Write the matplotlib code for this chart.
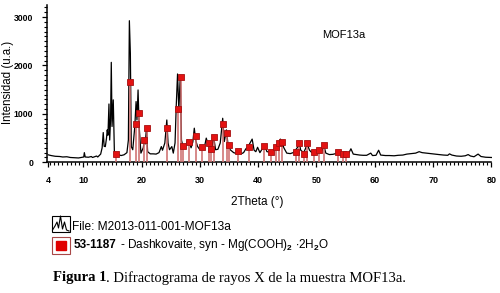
import matplotlib
matplotlib.use('Agg')
import matplotlib.pyplot as plt
from matplotlib.patches import Rectangle
from matplotlib.ticker import MultipleLocator

two_theta = [4.0, 4.5, 5.2, 6.0, 6.5, 7.2, 7.8, 8.5, 9.2, 9.7, 10.1, 10.2, 10.35, 10.9,
             11.4, 11.6, 12.3, 12.5, 13.0, 13.25, 13.44, 13.6, 13.8, 14.0, 14.13, 14.25,
             14.42, 14.55, 14.7, 14.82, 14.95, 15.16, 15.35, 15.7, 16.0, 16.5, 17.0, 17.5,
             17.75, 17.92, 18.09, 18.25, 18.5, 18.85, 19.07, 19.22, 19.41, 19.6, 19.9, 20.3,
             20.5, 20.65, 20.85, 21.05, 21.5, 22.0, 22.5, 23.0, 23.4, 23.6, 24.0, 24.34,
             24.55, 24.8, 25.2, 25.45, 25.75, 25.95, 26.18, 26.4, 26.65, 26.85, 27.1, 27.3,
             27.6, 27.9, 28.2, 28.5, 28.8, 29.05, 29.3, 29.6, 30.0, 30.4, 30.7, 31.1, 31.4,
             31.7, 32.0, 32.4, 32.7, 33.1, 33.5, 33.92, 34.2, 34.55, 34.8, 35.2, 35.8, 36.3,
             36.6, 37.0, 37.5, 37.9, 38.3, 38.97, 39.3, 39.6, 39.9, 40.3, 40.8, 41.1, 41.5,
             42.1, 42.6, 43.0, 43.5, 43.8, 44.1, 44.4, 44.9, 45.5, 46.0, 46.4, 46.8, 47.0,
             47.3, 47.8, 48.1, 48.4, 48.8, 49.2, 49.6, 50.0, 50.4, 50.8, 51.3, 51.6, 52.2,
             52.8, 53.3, 53.7, 54.0, 54.5, 55.0, 55.5, 55.9, 56.3, 56.8, 57.4, 58.0, 58.6,
             59.3, 59.6, 60.2, 60.65, 61.0, 61.8, 62.5, 63.3, 64.0, 64.8, 65.5, 66.3, 67.0,
             67.6, 68.1, 68.8, 69.5, 70.2, 71.0, 71.8, 72.5, 72.8, 73.2, 74.0, 74.8, 75.5,
             76.0, 76.4, 77.0, 77.7, 78.2, 79.0, 80.0]
intensity = [155, 140, 125, 120, 110, 115, 100, 95, 90, 100, 110, 200, 110, 105,
             120, 100, 130, 110, 170, 300, 615, 330, 325, 500, 670, 560,
             1205, 460, 900, 2065, 740, 1290, 220, 170, 160, 140, 155, 200,
             460, 2925, 2250, 325, 260, 740, 1255, 875, 1495, 740, 190, 300,
             460, 380, 720, 220, 175, 175, 170, 200, 325, 250, 400, 875,
             400, 260, 325, 190, 400, 1150, 1825, 1080, 1780, 460, 330, 290,
             350, 460, 420, 300, 420, 705, 450, 330, 260, 310, 260, 500, 380,
             320, 280, 500, 260, 270, 400, 910, 430, 670, 400, 260, 200, 180,
             230, 170, 200, 280, 330, 480, 250, 220, 310, 200, 300, 350, 220,
             210, 250, 320, 380, 480, 420, 300, 190, 180, 200, 250, 320, 420,
             250, 200, 280, 380, 250, 200, 230, 200, 260, 220, 330, 190, 160,
             165, 180, 220, 170, 190, 170, 180, 280, 170, 160, 150, 145, 145,
             190, 140, 145, 250, 150, 140, 140, 135, 145, 150, 170, 180, 190,
             220, 200, 190, 180, 170, 160, 150, 145, 175, 150, 130, 125, 135,
             160, 130, 115, 170, 120, 105, 100]

# reference card 53-1187 (Dashkovaite) peak positions and heights
ref_theta = [15.65, 18.1, 19.12, 19.57, 20.48, 20.9, 24.34, 26.2, 26.72, 27.18, 28.2,
             29.28, 30.45, 31.65, 31.93, 32.43, 34.0, 34.73, 35.06, 36.53, 38.4,
             40.98, 42.13, 42.99, 43.56, 44.13, 46.42, 47.0, 47.86, 48.43, 49.6,
             50.45, 51.3, 53.6, 54.46, 55.04]
ref_intensity = [165, 1655, 785, 1015, 455, 705, 705, 1100, 1755, 330, 425,
                 535, 320, 395, 280, 530, 785, 615, 365, 235, 310,
                 340, 220, 310, 390, 420, 220, 390, 180, 390, 220,
                 250, 350, 220, 180, 165]

plt.rcParams['font.family'] = ['Liberation Sans', 'DejaVu Sans']
plt.rcParams['mathtext.fontset'] = 'custom'
plt.rcParams['mathtext.rm'] = 'Liberation Sans'
plt.rcParams['mathtext.bf'] = 'Liberation Sans:bold'

fig = plt.figure(figsize=(5, 2.93), dpi=100)
ax = fig.add_axes([0.094, 0.446, 0.889, 0.537])

ax.plot(two_theta, intensity, color='black', lw=0.9, zorder=2)
ax.vlines(ref_theta, 0, ref_intensity, color='#cc6a6a', lw=1.3, alpha=0.85, zorder=3)
ax.plot(ref_theta, ref_intensity, 's', ms=5, mfc='#e31212', mec='#a81010', mew=0.6,
        zorder=4)

ax.set_xlim(3.8, 80)
ax.set_ylim(0, 3250)
for side in ['top', 'right']:
    ax.spines[side].set_visible(False)
for side in ['left', 'bottom']:
    ax.spines[side].set_linewidth(1.1)

ax.set_xticks([4, 10, 20, 30, 40, 50, 60, 70, 80])
ax.xaxis.set_minor_locator(MultipleLocator(5 / 7))
ax.set_yticks([0, 1000, 2000, 3000])
ax.yaxis.set_minor_locator(MultipleLocator(100))
ax.tick_params(which='major', length=3.8, width=0.9, direction='out')
ax.tick_params(which='minor', length=2.4, width=0.8, direction='out')
ax.tick_params(axis='x', labelsize=6.5, pad=6)
ax.tick_params(axis='y', labelsize=6.2, pad=6)
for lbl in ax.get_xticklabels() + ax.get_yticklabels():
    lbl.set_fontweight('bold')

ax.set_xlabel('2Theta (°)', fontsize=8.5)
ax.xaxis.set_label_coords(0.474, -0.215)
ax.set_ylabel('Intensidad (u.a.)', fontsize=8.3)
ax.yaxis.set_label_coords(-0.074, 0.51)
ax.text(54.6, 2630, 'MOF13a', fontsize=8, ha='center', va='center')

# overlay in pixel coordinates for the legend and caption
ov = fig.add_axes([0, 0, 1, 1])
ov.set_xlim(0, 500)
ov.set_ylim(293, 0)
ov.axis('off')

ov.add_patch(Rectangle((51.5, 215.5), 18, 16.5, fill=False, ec='black', lw=0.8))
ov.plot([52.5, 55, 57, 58.5, 60.5, 62.5, 64.5, 66.5, 69],
        [230, 226, 222, 228, 216, 229, 222, 230, 231], color='black', lw=0.8)
ov.text(72, 227, 'File: M2013-011-001-MOF13a', fontsize=8.6, va='center')

ov.add_patch(Rectangle((51.5, 236.5), 18, 17, fill=False, ec='#a84848', lw=0.8))
ov.add_patch(Rectangle((56, 240.5), 10, 9, color='#e00000'))
t_code = ov.text(74, 245, '53-1187', fontsize=8.5, weight='bold', va='center')

t_cap = ov.text(53, 278, 'Figura 1', fontsize=10.5, weight='bold', va='center',
                family='Liberation Serif')

fig.canvas.draw()
inv = ov.transData.inverted()
x_end = inv.transform((t_code.get_window_extent().x1, 0))[0]
ov.text(x_end, 245, r' - Dashkovaite, syn - Mg(COOH)$_\mathbf{2}$ $\cdot$2H$_\mathbf{2}$O',
        fontsize=8.5, va='center')
x_end = inv.transform((t_cap.get_window_extent().x1, 0))[0]
ov.text(x_end, 278, '. Difractograma de rayos X de la muestra MOF13a.', fontsize=10.5,
        va='center', family='Liberation Serif')

fig.savefig('out.png', dpi=100)
